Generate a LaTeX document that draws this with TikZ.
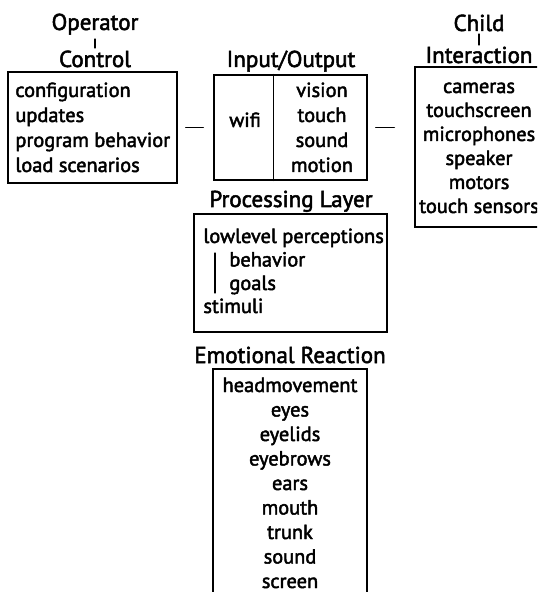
\documentclass[tikz,border=0pt]{standalone}
\usepackage{fontspec}
\setmainfont{PT Sans}[FakeBold=2.2]
\usetikzlibrary{fit}

\begin{document}
\begin{tikzpicture}[x=0.5pt,y=-0.5pt,line cap=round,
  title/.style={anchor=base,inner sep=0pt,font=\fontsize{11.5}{13}\selectfont},
  item/.style={anchor=base,inner sep=0pt,font=\fontsize{10.2}{12}\selectfont},
  itemleft/.style={item,anchor=base west},
  box/.style={draw,line width=0.6pt,inner sep=0pt},
  link/.style={line width=0.6pt}]
\useasboundingbox (0,0) rectangle (537,592);
\clip (0,0) rectangle (537,592);
% operator side
\node[title] (oper) at (95,30) {Operator};
\node[title] (ctrl) at (95,67) {Control};
\draw[link] ([yshift=-4.5pt]oper.base) -- ([yshift=9.5pt]ctrl.base);
\node[box,fit={(8,72) (177,183)}] (ctrlbox) {};
\node[itemleft] (cfg) at (15,97) {configuration};
\node[itemleft] (upd) at (15,122) {updates};
\node[itemleft] (prog) at (15,147) {program behavior};
\node[itemleft] (load) at (15,172) {load scenarios};
% input/output
\node[title] (io) at (291,67) {Input/Output};
\node[box,fit={(214,75) (367,180)}] (iobox) {};
\draw[link] ([xshift=30pt]iobox.north west) -- ([xshift=30pt]iobox.south west);
\node[item] (wifi) at (245,127) {wifi};
\node[item] (vis) at (322,97) {vision};
\node[item] (tch) at (322,122) {touch};
\node[item] (snd) at (322,147) {sound};
\node[item] (mot) at (322,172) {motion};
\draw[link,shorten <=4pt,shorten >=5pt] (ctrlbox) -- (iobox);
% child side
\node[title] (child) at (479,31) {Child};
\node[title] (inter) at (479,63) {Interaction};
\draw[link] ([yshift=-1.5pt]child.base) -- ([yshift=9pt]inter.base);
\node[box,fit={(415,67) (543,227)}] (childbox) {};
\node[item] (cam) at (479,93) {cameras};
\node[item] (tscr) at (479,117) {touchscreen};
\node[item] (mic) at (479,141) {microphones};
\node[item] (spk) at (479,165) {speaker};
\node[item] (mtr) at (479,189) {motors};
\node[item] (tsen) at (479,213) {touch sensors};
\draw[link,shorten <=4pt,shorten >=10pt] (iobox.east) -- (iobox.east -| childbox.west);
% processing
\node[title] (proc) at (291,207) {Processing Layer};
\node[box,fit={(194,214) (387,332)}] (procbox) {};
\node[itemleft] (low) at (203,243) {lowlevel perceptions};
\node[itemleft] (beh) at (229,266.5) {behavior};
\node[itemleft] (goal) at (229,290) {goals};
\node[itemleft] (stim) at (203,313) {stimuli};
\draw[link] (215,253) -- (215,293);
% emotional reaction
\node[title] (emo) at (290,363) {Emotional Reaction};
\node[box,fit={(213,369) (367,610)}] (emobox) {};
\node[item] (head) at (290,392) {headmovement};
\node[item] (eyes) at (290,416.5) {eyes};
\node[item] (lids) at (290,441) {eyelids};
\node[item] (brows) at (290,465.5) {eyebrows};
\node[item] (ears) at (290,490) {ears};
\node[item] (mouth) at (290,514.5) {mouth};
\node[item] (trunk) at (290,539) {trunk};
\node[item] (sound) at (290,563.5) {sound};
\node[item] (scr) at (290,588) {screen};
\end{tikzpicture}
\end{document}
